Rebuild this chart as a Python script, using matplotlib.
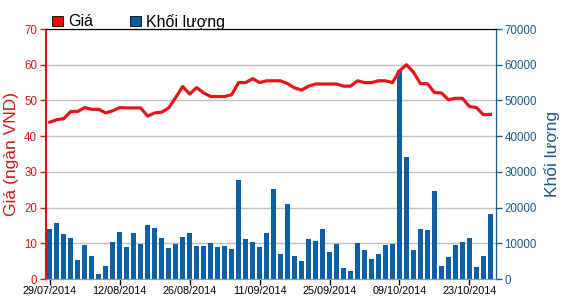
import matplotlib
matplotlib.use('Agg')
import matplotlib.pyplot as plt
from matplotlib.patches import Rectangle

plt.rcParams['font.family'] = ['Liberation Sans', 'DejaVu Sans']

# gia (ngan VND) theo phien
gia = [43.9, 44.6, 44.9, 46.9, 46.9, 48.0, 47.5, 47.5, 46.5, 47.1,
       48.0, 47.9, 47.9, 47.9, 45.6, 46.5, 46.7, 47.9, 50.8, 53.9,
       51.8, 53.6, 52.1, 51.1, 51.1, 51.1, 51.6, 55.0, 55.0, 56.1,
       55.0, 55.5, 55.5, 55.5, 54.7, 53.5, 52.9, 54.0, 54.6, 54.6,
       54.6, 54.6, 54.0, 54.0, 55.5, 55.0, 55.0, 55.5, 55.5, 55.0,
       58.3, 60.0, 57.9, 54.7, 54.7, 52.2, 52.1, 50.2, 50.6, 50.6,
       48.3, 48.0, 46.0, 46.1]

# khoi luong theo phien
khoi_luong = [14000, 15800, 12700, 11500, 5300, 9600, 6400, 1400, 3600, 10400,
              13200, 9100, 12900, 9900, 15100, 14300, 11500, 8700, 9900, 11800,
              12900, 9300, 9300, 10100, 9000, 9300, 8400, 27700, 11200, 10400,
              9000, 12900, 25100, 7000, 21100, 6400, 5000, 11200, 10700, 14000,
              7600, 9900, 3100, 2200, 10100, 8100, 5600, 7000, 9500, 9900,
              58500, 34300, 8100, 14000, 13700, 24600, 3600, 6200, 9600, 10400,
              11500, 3400, 6400, 18100]

ngay = ['29/07/2014', '12/08/2014', '26/08/2014', '11/09/2014',
        '25/09/2014', '09/10/2014', '23/10/2014']

red = '#e8141b'
red_txt = '#d01818'
blue = '#0b5fa5'
blue_txt = '#1a5c85'

fig = plt.figure(figsize=(5.64, 2.99), dpi=100)
ax = fig.add_axes([45.5 / 564, 20 / 299, 450.5 / 564, 250 / 299])
ax2 = ax.twinx()

x = list(range(len(khoi_luong)))
ax2.bar(x, khoi_luong, width=0.67, color=blue, zorder=2)
ax2.set_ylim(0, 70000)
ax2.set_yticks(range(0, 70001, 10000))
ax2.yaxis.grid(True, color='#c0c0c0', linewidth=1, zorder=0)
ax2.set_axisbelow(True)

ax.plot(x, gia, color=red, linewidth=2.3, solid_joinstyle='round')
ax.set_ylim(0, 70)
ax.set_yticks(range(0, 71, 10))
ax.set_xlim(-0.61, 63.8)
ax.set_xticks(range(0, 61, 10))
ax.set_xticklabels(ngay)
ax.set_zorder(ax2.get_zorder() + 1)
ax.patch.set_visible(False)

ax.tick_params(axis='y', colors=red_txt, labelsize=8.3, length=4, width=1, pad=2)
ax.tick_params(axis='x', colors='black', labelsize=7.8, length=4, width=1, pad=1)
ax2.tick_params(axis='y', colors=blue_txt, labelsize=8.3, length=4, width=1, pad=2)

for a in (ax, ax2):
    a.spines['top'].set_color('black')
    a.spines['bottom'].set_color('#9a9a9a')
    a.spines['left'].set_color(red_txt)
    a.spines['right'].set_color(blue_txt)

ax.set_ylabel('Giá (ngàn VND)', color=red_txt, fontsize=12.5, labelpad=4)
ax2.set_ylabel('Khối lượng', color=blue_txt, fontsize=12.5, labelpad=5)

# chu thich
fig.patches.append(Rectangle((52 / 564, 1 - 26 / 299), 11 / 564, 10 / 299,
                             transform=fig.transFigure, facecolor='#ff0000',
                             edgecolor='black', linewidth=0.6))
fig.text(68 / 564, 1 - 21.5 / 299, 'Giá', fontsize=11.5, va='center')
fig.patches.append(Rectangle((130 / 564, 1 - 26 / 299), 11 / 564, 10 / 299,
                             transform=fig.transFigure, facecolor=blue,
                             edgecolor='black', linewidth=0.6))
fig.text(146 / 564, 1 - 21.5 / 299, 'Khối lượng', fontsize=11.5, va='center')

fig.savefig('out.png', dpi=100)
